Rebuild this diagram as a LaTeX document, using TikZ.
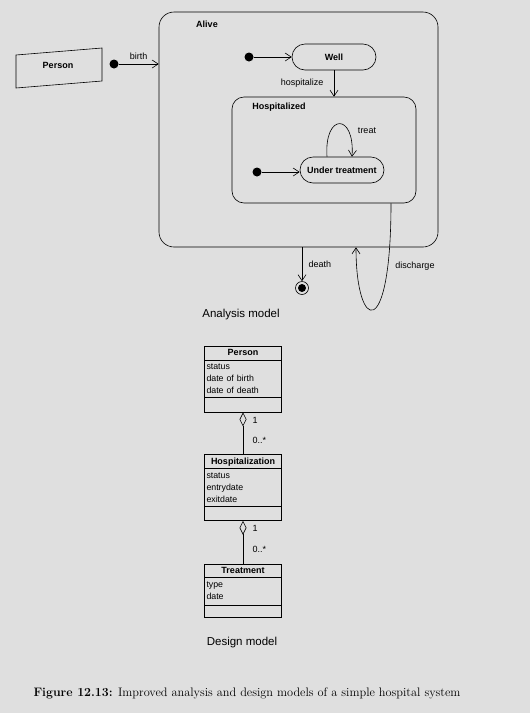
\documentclass[tikz,border=0pt]{standalone}
\usepackage{fontspec}
\setsansfont{Liberation Sans}
\usepackage{tikz}
\usetikzlibrary{arrows.meta,positioning,shapes.multipart,calc}
\definecolor{paper}{RGB}{223,223,223}
\newcommand{\cname}[1]{{\centering\fontsize{9}{10}\selectfont\bfseries\rule[-3pt]{0pt}{11pt}#1\par}}
\newcommand{\firstrow}{\rule{0pt}{8.5pt}}
\newcommand{\lastrow}{\rule[-2.5pt]{0pt}{2.5pt}}
\newcommand{\noops}[1][12pt]{\rule{0pt}{#1}}
\tikzset{
  >={Straight Barb[length=6pt,width=8pt]},
  every node/.style={font=\sffamily\fontsize{9}{11}\selectfont},
  line/.style={line width=0.6pt},
  title/.style={font=\sffamily\bfseries\fontsize{9}{11}\selectfont},
  statenode/.style={line, draw, rounded corners=13pt, minimum width=84pt,
    minimum height=26pt, font=\sffamily\bfseries\fontsize{9}{11}\selectfont},
  region/.style={line, draw, inner sep=0pt},
  initdot/.style={circle, fill, inner sep=0pt, minimum size=9pt},
  finaldot/.style={line, circle, draw, inner sep=0pt, minimum size=13pt,
    path picture={\fill (path picture bounding box.center) circle (4pt);}},
  umlclass/.style={line, draw, rectangle split, rectangle split parts=3,
    text width=73pt, align=left, inner xsep=2pt, inner ysep=1pt, anchor=north,
    font=\sffamily\fontsize{8.8}{12}\selectfont},
  mult/.style={font=\sffamily\fontsize{9}{10}\selectfont},
  heading/.style={font=\sffamily\fontsize{11.5}{13}\selectfont}
}

\begin{document}
\begin{tikzpicture}[x=1pt,y=-1pt]
  \fill[paper] (0,0) rectangle (530,713);
  \useasboundingbox (0,0) rectangle (530,713);

  \draw[line] (16,55) -- (102,48) -- (102,81) -- (16,88) -- cycle;
  \node[title] (person) at (58,65) {Person};
  \node[initdot] (i0) at (114,64) {};
  \node[region, rounded corners=15pt, minimum width=279pt, minimum height=235pt] (alive) at (298.5,129.5) {};
  \node[title] (alivelbl) at (207,24) {Alive};
  \node[initdot] (i1) at (249,57) {};
  \node[statenode] (well) at (334,57) {Well};
  \node[region, rounded corners=12pt, minimum width=184pt, minimum height=106pt] (hosp) at (324,150) {};
  \node[title] (hosplbl) at (279,107) {Hospitalized};
  \node[initdot] (i2) at (257,172) {};
  \node[statenode] (treat) at (342,170) {Under treatment};
  \node[finaldot] (fin) at (302,288) {};
  \coordinate (d0) at ([xshift=67pt]hosp.south);
  \coordinate (d1) at ([xshift=57.5pt]alive.south);

  \path[->,line]
  (i0) edge node[above=1pt] {birth} (i0 -| alive.west)
  (i1) edge (well)
  (well) edge node[left=7pt] {hospitalize} (well |- hosp.north)
  (i2) edge (i2 -| treat.west)
  (alive.south -| fin) edge node[right=3pt] {death} (fin);
  \draw[->,line] ([xshift=-15pt]treat.north) .. controls +(-3,-44) and +(3,-44) .. ([xshift=10pt]treat.north);
  \node (treatlbl) at (367,131) {treat};
  \draw[->,line] (d0) .. controls +(0,140) and +(0,85) .. (d1);
  \node (dislbl) at (415,266) {discharge};

  \node[heading] (anl) at (241,315) {Analysis model};

  \node[umlclass] (cperson) at (243,346)
    {\cname{Person}
     \nodepart{two} \firstrow status\\date of birth\\date of death\lastrow
     \nodepart{three} \noops};
  \node[umlclass, below=42pt of cperson] (chosp)
    {\cname{Hospitalization}
     \nodepart{two} \firstrow status\\entrydate\\exitdate\lastrow
     \nodepart{three} \noops};
  \node[umlclass, below=43pt of chosp] (ctreat)
    {\cname{Treatment}
     \nodepart{two} \firstrow type\\date\rule[-4pt]{0pt}{4pt}
     \nodepart{three} \noops[10pt]};

  \draw[{Diamond[open,length=14pt,width=7pt]}-,line] (cperson.south) -- (chosp.north)
    node[mult, pos=0.18, right=6pt] {1}
    node[mult, pos=0.66, right=6pt] {0..*};
  \draw[{Diamond[open,length=14pt,width=7pt]}-,line] (chosp.south) -- (ctreat.north)
    node[mult, pos=0.18, right=6pt] {1}
    node[mult, pos=0.66, right=6pt] {0..*};

  \node[heading] (dsg) at (242,643) {Design model};
  \node[font=\rmfamily\fontsize{12.3}{14}\selectfont] (cap) at (247,693)
    {\textbf{Figure 12.13:} Improved analysis and design models of a simple hospital system};
\end{tikzpicture}
\end{document}
